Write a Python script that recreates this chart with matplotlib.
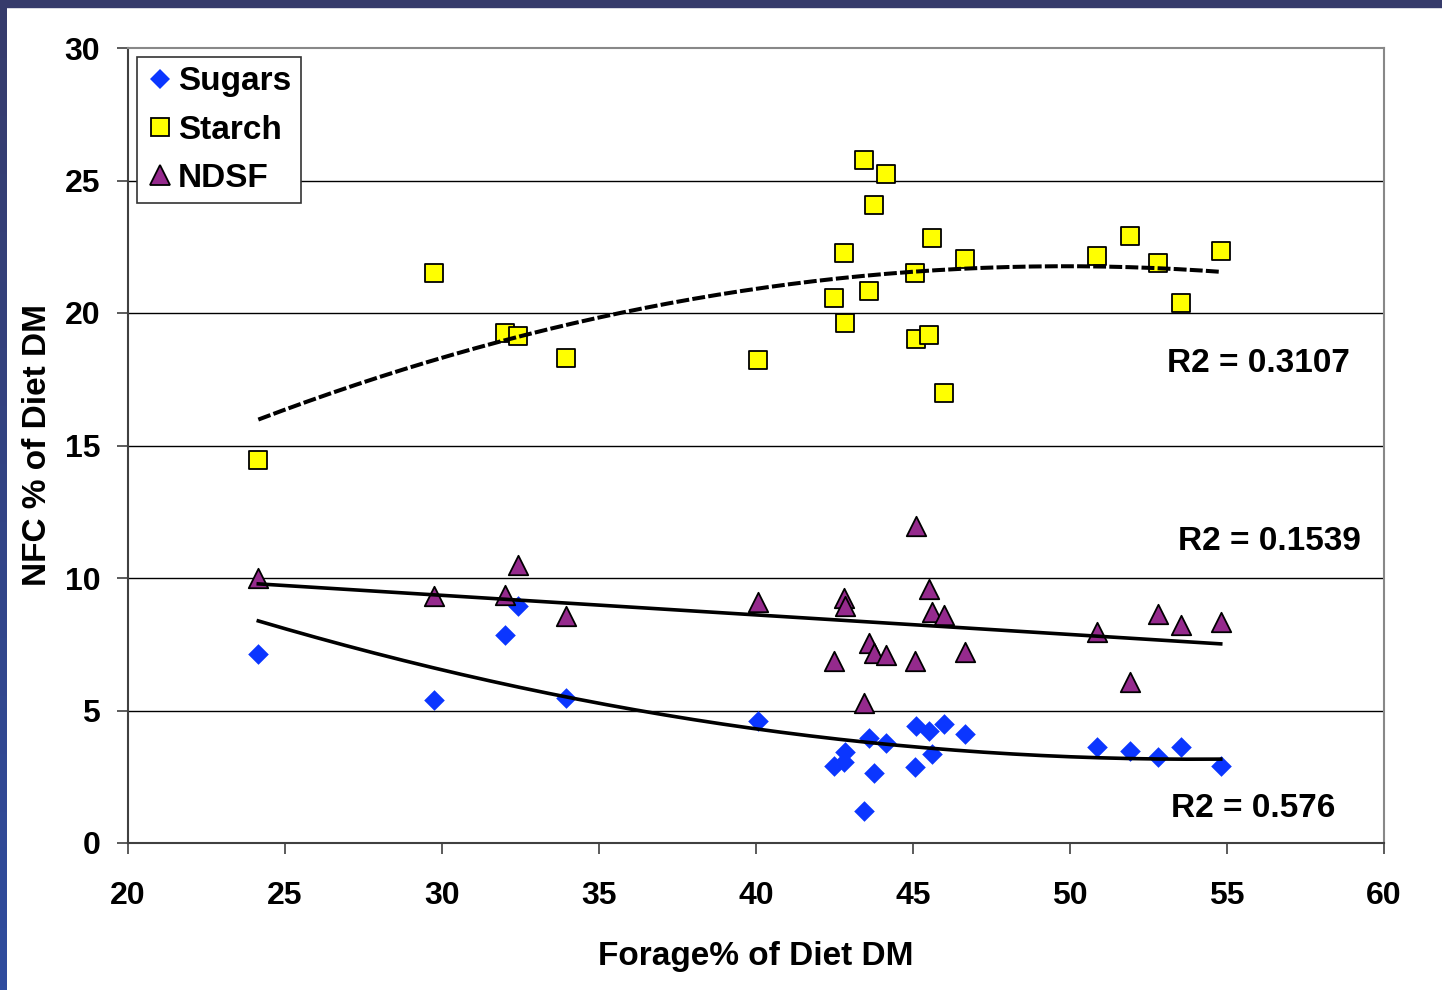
import numpy as np
import matplotlib
matplotlib.use("Agg")
import matplotlib.pyplot as plt
from matplotlib.lines import Line2D

plt.rcParams['font.family'] = ['Liberation Sans', 'DejaVu Sans']
plt.rcParams['font.weight'] = 'bold'

# Forage % of diet DM (one value per diet)
forage = [24.15, 29.75, 32.0, 32.42, 33.95, 40.05, 42.5, 42.8, 42.85, 43.45,
          43.6, 43.75, 44.15, 45.05, 45.1, 45.5, 45.6, 46.0, 46.65, 50.85,
          51.9, 52.8, 53.55, 54.8]

sugars = [7.13, 5.38, 7.85, 8.95, 5.49, 4.61, 2.91, 3.07, 3.43, 1.22,
          3.98, 2.66, 3.77, 2.86, 4.42, 4.24, 3.36, 4.48, 4.12, 3.61,
          3.49, 3.26, 3.61, 2.92]

starch = [14.45, 21.5, 19.25, 19.13, 18.3, 18.23, 20.57, 22.26, 19.62, 25.77,
          20.83, 24.08, 25.25, 21.5, 19.02, 19.17, 22.83, 16.98, 22.04, 22.15,
          22.9, 21.89, 20.38, 22.34]

ndsf = [10.0, 9.33, 9.37, 10.48, 8.57, 9.1, 6.88, 9.24, 8.93, 5.30,
        7.54, 7.17, 7.10, 6.88, 11.95, 9.58, 8.70, 8.61, 7.19, 7.98,
        6.06, 8.64, 8.24, 8.33]

r2_labels = ['R2 = 0.3107', 'R2 = 0.1539', 'R2 = 0.576']

BLUE = '#0b36ff'
YELLOW = '#ffff00'
PURPLE = '#952a8d'

fig = plt.figure(figsize=(14.42, 9.9), dpi=100)
fig.patch.set_facecolor('white')

# slide background bands (top and left)
band = fig.add_axes([0, 0, 7 / 1442, 1])
grad = np.linspace(0, 1, 256).reshape(-1, 1)
cmap = matplotlib.colors.LinearSegmentedColormap.from_list('band', ['#2f4c9e', '#363b6b'])
band.imshow(grad, aspect='auto', cmap=cmap, origin='lower')
band.axis('off')
fig.patches.append(plt.Rectangle((0, 1 - 7 / 990), 1, 7 / 990, transform=fig.transFigure,
                                 color='#363b6b', zorder=10))

ax = fig.add_axes([128 / 1442, 1 - 843 / 990, 1256 / 1442, 795 / 990])

x = np.array(forage)
ax.scatter(x, sugars, marker='D', s=10.5 ** 2, color=BLUE, linewidths=0, zorder=3)
ax.scatter(x, starch, marker='s', s=13 ** 2, facecolor=YELLOW, edgecolor='black', linewidths=1.3, zorder=3)
ax.scatter(x, ndsf, marker='^', s=14 ** 2, facecolor=PURPLE, edgecolor='black', linewidths=1.3, zorder=3)

# trendlines: 2nd-order polynomial for sugars and starch, linear for NDSF
xs = np.linspace(x.min(), x.max(), 200)
for vals, deg, ls, lw in [(sugars, 2, '-', 2.6), (starch, 2, (0, (3.2, 0.8)), 2.9), (ndsf, 1, '-', 2.6)]:
    c = np.polyfit(x, vals, deg)
    ax.plot(xs, np.polyval(c, xs), color='black', lw=lw, linestyle=ls, zorder=4)

ax.text(58.9, 17.77, r2_labels[0], ha='right', va='baseline', fontsize=24, fontweight='bold')
ax.text(59.25, 11.06, r2_labels[1], ha='right', va='baseline', fontsize=24, fontweight='bold')
ax.text(58.45, 0.98, r2_labels[2], ha='right', va='baseline', fontsize=24, fontweight='bold')

ax.set_xlim(20, 60)
ax.set_ylim(0, 30)
ax.set_xticks(range(20, 61, 5))
ax.set_yticks(range(0, 31, 5))
for yv in range(5, 30, 5):
    ax.axhline(yv, color='black', lw=1, zorder=1)

ax.tick_params(axis='both', labelsize=23, length=8, width=1.2, color='#404040', direction='out')
ax.tick_params(axis='y', pad=12)
ax.tick_params(axis='x', pad=19)
for t in ax.get_xticklabels() + ax.get_yticklabels():
    t.set_fontweight('bold')

for side in ['left', 'bottom']:
    ax.spines[side].set_color('#404040')
    ax.spines[side].set_linewidth(1.5)
for side in ['top', 'right']:
    ax.spines[side].set_color('#888888')
    ax.spines[side].set_linewidth(1.5)

ax.set_xlabel('Forage% of Diet DM', fontsize=24, fontweight='bold', labelpad=22)
ax.set_ylabel('NFC % of Diet DM', fontsize=24, fontweight='bold', labelpad=8)

handles = [
    Line2D([], [], marker='D', color=BLUE, markersize=10.5, linestyle='None', markeredgewidth=0),
    Line2D([], [], marker='s', markerfacecolor=YELLOW, markeredgecolor='black', markersize=13,
           linestyle='None', markeredgewidth=1.3),
    Line2D([], [], marker='^', markerfacecolor=PURPLE, markeredgecolor='black', markersize=14,
           linestyle='None', markeredgewidth=1.3),
]
leg = ax.legend(handles, ['Sugars', 'Starch', 'NDSF'], loc='upper left',
                bbox_to_anchor=(9 / 1256, 1 - 9 / 795), borderaxespad=0,
                prop={'size': 24, 'weight': 'bold'}, fancybox=False, framealpha=1,
                edgecolor='#333333', handlelength=0.8, handletextpad=0.15,
                labelspacing=0.52, borderpad=0.28)
leg.get_frame().set_linewidth(1.2)
leg.set_zorder(5)

fig.savefig('out.png', dpi=100, facecolor='white')
